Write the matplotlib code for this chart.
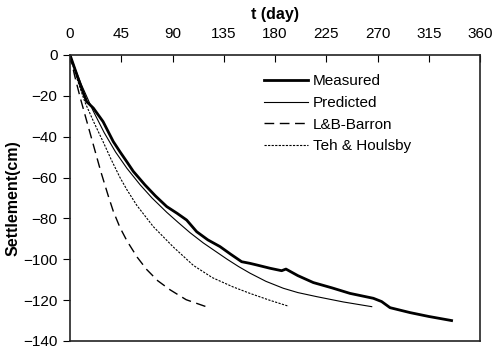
import matplotlib
matplotlib.use("Agg")
import matplotlib.pyplot as plt

plt.rcParams["font.family"] = ["Liberation Sans", "DejaVu Sans"]

# Measured settlement
meas_t = [0, 5, 10, 14.6, 20.5, 29, 38, 44, 49.8, 55.6, 65.8, 75, 84.9, 94,
          102.4, 111.2, 121, 131.7, 141, 150.7, 158, 164, 175.6, 185.8, 189.6,
          200, 213.6, 230, 245.8, 266.3, 273.6, 281, 298.5, 315, 335]
meas_s = [0, -8, -16, -22.8, -26, -32.6, -42.4, -47.5, -52.2, -57, -63.6, -69,
          -74.2, -77.5, -80.8, -86.5, -90.5, -93.8, -97.5, -101.2, -102, -102.8,
          -104.4, -105.6, -104.8, -108, -111.4, -114, -116.7, -119.1, -120.7,
          -123.7, -126.1, -128, -130]

# Predicted
pred_t = [0, 5, 10, 20, 30, 40, 50, 61.5, 72, 84.9, 95, 105.4, 117, 128.8, 138,
          147.8, 158, 172, 187.3, 200, 216.6, 240, 264.9]
pred_s = [0, -7.5, -14.5, -27, -38, -47.5, -55.5, -63.5, -70, -77, -82, -87,
          -92, -96.5, -100, -103.5, -106.8, -110.8, -114.2, -116.3, -118.3,
          -120.9, -123.2]

# L&B-Barron
lb_t = [0, 4, 9, 15, 21, 27, 33.6, 38, 43.9, 50, 59, 67.3, 77, 88, 102, 120]
lb_s = [0, -10, -21, -33, -45, -57, -69, -76.5, -84.5, -91, -99, -105, -110.5,
        -115, -119.8, -123.3]

# Teh & Houlsby
teh_t = [0, 4, 13, 21, 29, 36, 43.9, 50, 58.5, 73.1, 90.7, 108.3, 125, 143,
         158, 175, 192]
teh_s = [0, -8, -23, -33, -42.4, -51, -60, -66, -73.5, -84, -94, -103, -109,
         -113.5, -116.7, -120, -123]

fig = plt.figure(figsize=(4.99, 3.52), dpi=100)
ax = fig.add_axes([0.1403, 0.0313, 0.8217, 0.8125])

ax.plot(meas_t, meas_s, color="black", lw=2.0, label="Measured")
ax.plot(pred_t, pred_s, color="black", lw=0.8, label="Predicted")
ax.plot(lb_t, lb_s, color="black", lw=1.0, dashes=(7, 4), label="L&B-Barron")
ax.plot(teh_t, teh_s, color="black", lw=0.8, dashes=(2, 1.2), label="Teh & Houlsby")

ax.set_xlim(0, 360)
ax.set_ylim(-140, 0)
ax.set_xticks(range(0, 361, 45))
ax.set_yticks(range(-140, 1, 20))

ax.xaxis.tick_top()
ax.xaxis.set_label_position("top")
ax.tick_params(axis="x", direction="in", length=5, pad=10, labelsize=11)
ax.tick_params(axis="y", direction="out", length=5, pad=4, labelsize=11)
for sp in ax.spines.values():
    sp.set_linewidth(1.2)
    sp.set_color("#222222")

ax.set_xlabel("t (day)", fontsize=11.5, fontweight="bold", labelpad=6)
ax.set_ylabel("Settlement(cm)", fontsize=11.5, fontweight="bold", labelpad=2)

ax.legend(loc="upper left", bbox_to_anchor=(0.44, 0.98), frameon=False,
          fontsize=11, handlelength=2.9, handletextpad=0.3, labelspacing=0.5)

fig.savefig("out.png", dpi=100)
